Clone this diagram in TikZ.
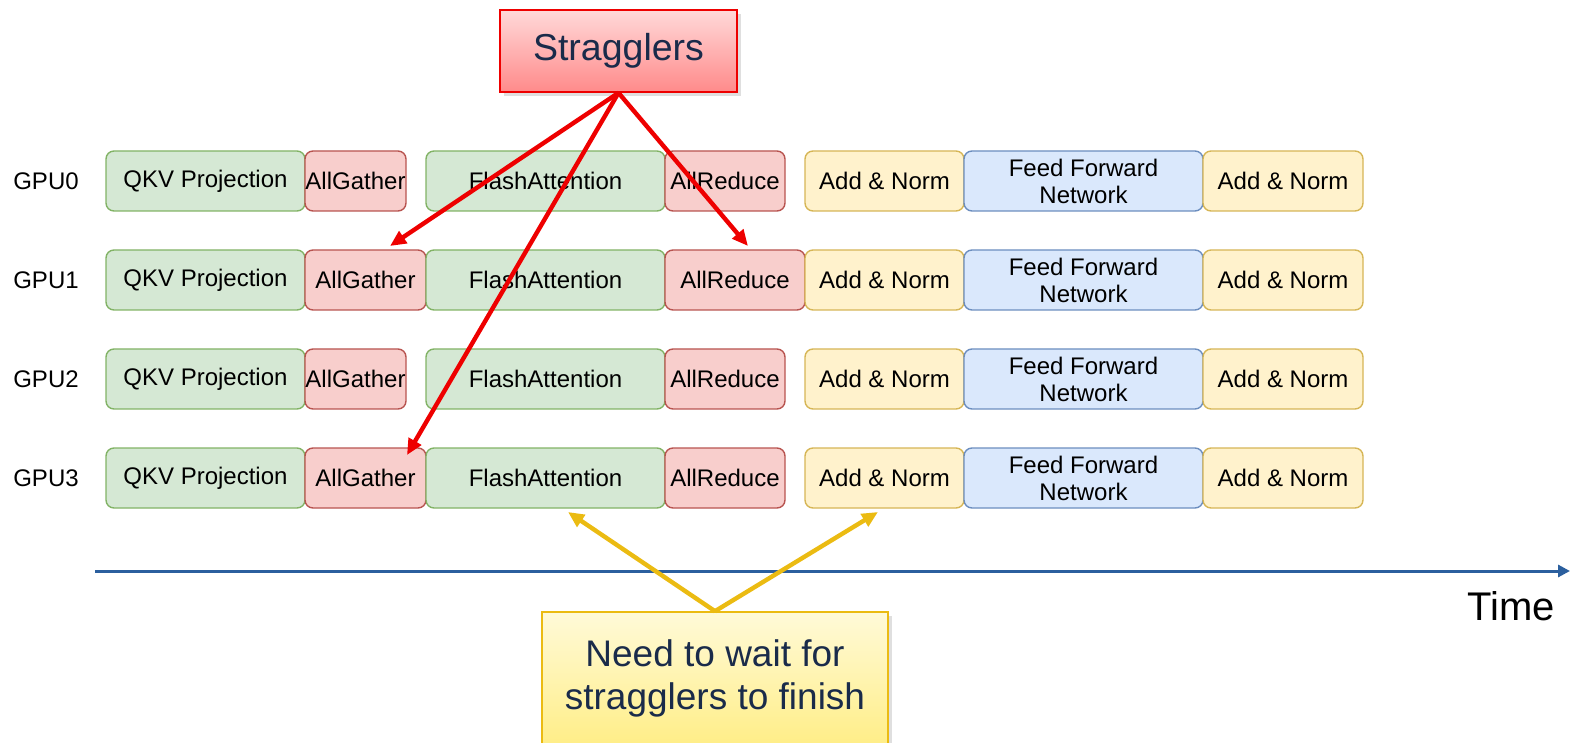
\documentclass[tikz,border=0pt]{standalone}
\usepackage{fontspec}
\setmainfont{Liberation Sans}
\usetikzlibrary{arrows.meta,shadows}
\definecolor{cgreen}{HTML}{D5E8D4}
\definecolor{cgreenline}{HTML}{82B366}
\definecolor{cred}{HTML}{F8CECC}
\definecolor{credline}{HTML}{B85450}
\definecolor{cyellow}{HTML}{FFF2CC}
\definecolor{cyellowline}{HTML}{D6B656}
\definecolor{cblue}{HTML}{DAE8FC}
\definecolor{cblueline}{HTML}{6C8EBF}
\definecolor{arrowred}{HTML}{EE0000}
\definecolor{arrowgold}{HTML}{EBBB12}
\definecolor{timeblue}{HTML}{2B5F9E}
\definecolor{navytext}{HTML}{1A2B4A}
\definecolor{stragtop}{HTML}{FFD9D9}
\definecolor{stragbot}{HTML}{FF8A8A}
\definecolor{waittop}{HTML}{FFFAD8}
\definecolor{waitbot}{HTML}{FFEE88}

\begin{document}
\begin{tikzpicture}[x=0.5pt,y=-0.5pt]
\tikzset{
  opbox/.style={rectangle,rounded corners=4pt,line width=0.7pt,minimum height=30pt,inner sep=0pt,align=center,font=\fontsize{12}{13.5}\selectfont},
  computebox/.style={opbox,draw=cgreenline,fill=cgreen},
  commbox/.style={opbox,draw=credline,fill=cred},
  normbox/.style={opbox,draw=cyellowline,fill=cyellow,minimum width=79.5pt},
  ffnbox/.style={opbox,draw=cblueline,fill=cblue,minimum width=119.5pt},
  gpulabel/.style={font=\fontsize{12}{14}\selectfont},
  callout/.style={rectangle,line width=0.8pt,inner sep=0pt,align=center,text=navytext,drop shadow={opacity=0.25,shadow xshift=2pt,shadow yshift=-2pt}},
  redarrow/.style={draw=arrowred,line width=2.2pt,-{Triangle[length=8pt,width=7pt]}},
  goldarrow/.style={draw=arrowgold,line width=2.2pt,-{Triangle[length=8pt,width=7pt]}}
}
\useasboundingbox (0,0) rectangle (1570,743);
% gpu rows
\node[gpulabel] (n_L0) at (46,181) {GPU0};
\node[gpulabel] (n_L1) at (46,280) {GPU1};
\node[gpulabel] (n_L2) at (46,379) {GPU2};
\node[gpulabel] (n_L3) at (46,478) {GPU3};
\node[computebox,minimum width=99.5pt] (n_G0qkv) at (205.5,181) {QKV Projection};
\node[commbox,minimum width=50.5pt] (n_G0ag) at (355.5,181) {AllGather};
\node[computebox,minimum width=119.5pt] (n_G0fa) at (545.5,181) {FlashAttention};
\node[commbox,minimum width=60pt] (n_G0ar) at (725,181) {AllReduce};
\node[normbox] (n_G0an1) at (884.5,181) {Add \& Norm};
\node[ffnbox] (n_G0ffn) at (1083.5,181) {Feed Forward\\Network};
\node[normbox,minimum width=80pt] (n_G0an2) at (1283,181) {Add \& Norm};
\node[computebox,minimum width=99.5pt] (n_G1qkv) at (205.5,280) {QKV Projection};
\node[commbox,minimum width=60.5pt] (n_G1ag) at (365.5,280) {AllGather};
\node[computebox,minimum width=119.5pt] (n_G1fa) at (545.5,280) {FlashAttention};
\node[commbox,minimum width=70pt] (n_G1ar) at (735,280) {AllReduce};
\node[normbox] (n_G1an1) at (884.5,280) {Add \& Norm};
\node[ffnbox] (n_G1ffn) at (1083.5,280) {Feed Forward\\Network};
\node[normbox,minimum width=80pt] (n_G1an2) at (1283,280) {Add \& Norm};
\node[computebox,minimum width=99.5pt] (n_G2qkv) at (205.5,379) {QKV Projection};
\node[commbox,minimum width=50.5pt] (n_G2ag) at (355.5,379) {AllGather};
\node[computebox,minimum width=119.5pt] (n_G2fa) at (545.5,379) {FlashAttention};
\node[commbox,minimum width=60pt] (n_G2ar) at (725,379) {AllReduce};
\node[normbox] (n_G2an1) at (884.5,379) {Add \& Norm};
\node[ffnbox] (n_G2ffn) at (1083.5,379) {Feed Forward\\Network};
\node[normbox,minimum width=80pt] (n_G2an2) at (1283,379) {Add \& Norm};
\node[computebox,minimum width=99.5pt] (n_G3qkv) at (205.5,478) {QKV Projection};
\node[commbox,minimum width=60.5pt] (n_G3ag) at (365.5,478) {AllGather};
\node[computebox,minimum width=119.5pt] (n_G3fa) at (545.5,478) {FlashAttention};
\node[commbox,minimum width=60pt] (n_G3ar) at (725,478) {AllReduce};
\node[normbox] (n_G3an1) at (884.5,478) {Add \& Norm};
\node[ffnbox] (n_G3ffn) at (1083.5,478) {Feed Forward\\Network};
\node[normbox,minimum width=80pt] (n_G3an2) at (1283,478) {Add \& Norm};
% time axis
\coordinate (c_t0) at (95,571);
\coordinate (c_t1) at (1570,571);
\draw[timeblue,line width=1.5pt,-{Triangle[length=6pt,width=6pt]}] (c_t0) -- (c_t1);
\node[font=\fontsize{20}{24}\selectfont] (n_time) at (1511,606) {Time};
% callouts
\node[callout,draw=arrowred,top color=stragtop,bottom color=stragbot,minimum width=118.5pt,minimum height=41pt,font=\fontsize{18.75}{22}\selectfont] (n_strag) at (618.5,51) {Stragglers};
\node[callout,draw=arrowgold,top color=waittop,bottom color=waitbot,minimum width=173pt,minimum height=66pt,font=\fontsize{18.5}{21.5}\selectfont] (n_wait) at (715,678) {Need to wait for\\stragglers to finish};
\coordinate (c_ag1) at (390,246);
\coordinate (c_ar1) at (748,246);
\coordinate (c_ag3) at (407,455);
\coordinate (c_fa3) at (568,512);
\coordinate (c_an3) at (878,512);
\draw[redarrow] (n_strag.south) -- (c_ag1);
\draw[redarrow] (n_strag.south) -- (c_ar1);
\draw[redarrow] (n_strag.south) -- (c_ag3);
\draw[goldarrow] (n_wait.north) -- (c_fa3);
\draw[goldarrow] (n_wait.north) -- (c_an3);
\end{tikzpicture}
\end{document}
